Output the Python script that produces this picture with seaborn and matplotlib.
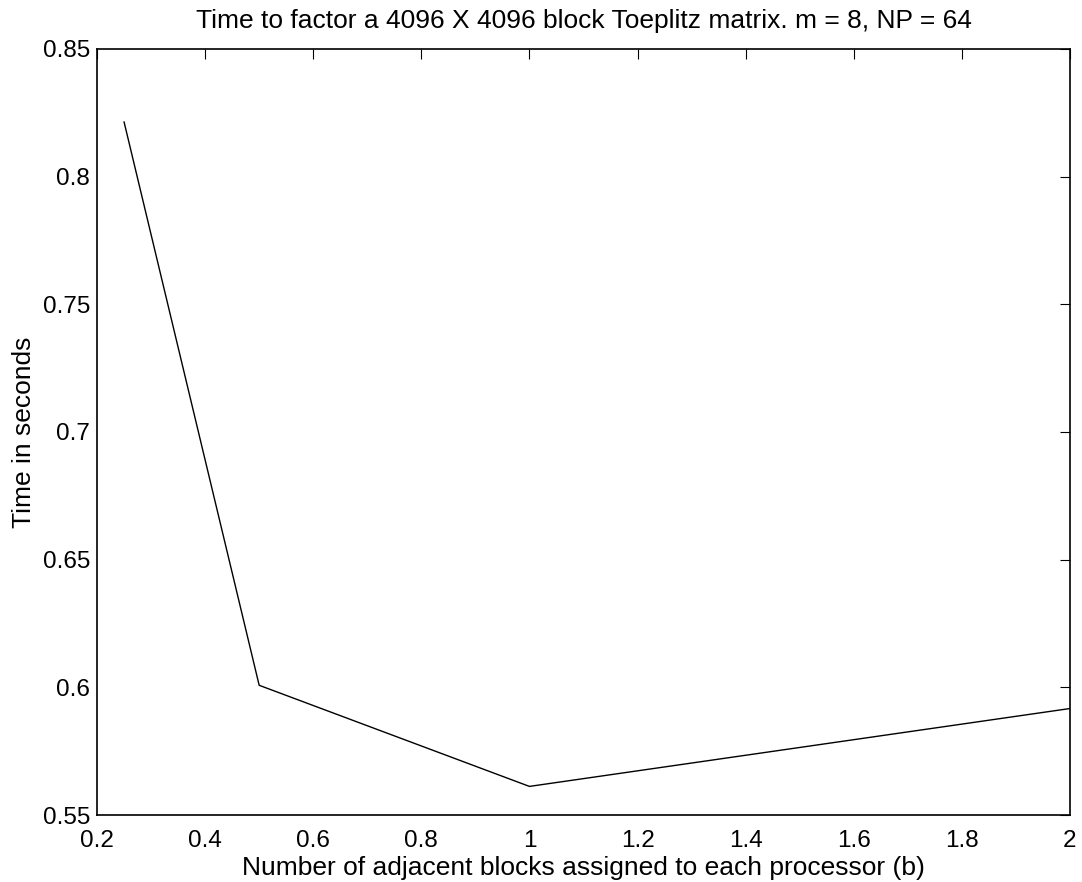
import matplotlib
matplotlib.use("Agg")
import matplotlib.pyplot as plt
import seaborn as sns
import pandas as pd

# Adjacent blocks per processor (b) and measured factorization time (s)
blocks = [0.25, 0.5, 1.0, 2.0]
seconds = [0.8215, 0.6008, 0.5612, 0.5917]

x_ticks = [0.2, 0.4, 0.6, 0.8, 1.0, 1.2, 1.4, 1.6, 1.8, 2.0]
x_tick_labels = ["0.2", "0.4", "0.6", "0.8", "1", "1.2", "1.4", "1.6", "1.8", "2"]
y_ticks = [0.55, 0.6, 0.65, 0.7, 0.75, 0.8, 0.85]
y_tick_labels = ["0.55", "0.6", "0.65", "0.7", "0.75", "0.8", "0.85"]

sns.set_theme(style="white")
plt.rcParams["font.family"] = ["Liberation Sans", "DejaVu Sans"]

df = pd.DataFrame({"b": blocks, "t": seconds})

fig = plt.figure(figsize=(10.82, 8.82), dpi=100)
ax = fig.add_axes([97 / 1082, 1 - 815 / 882, (1070 - 97) / 1082, (815 - 49) / 882])

sns.lineplot(data=df, x="b", y="t", ax=ax, color="black", linewidth=1.0,
             estimator=None, sort=False)

ax.set_xlim(0.2, 2.0)
ax.set_ylim(0.55, 0.85)
ax.set_xticks(x_ticks)
ax.set_xticklabels(x_tick_labels)
ax.set_yticks(y_ticks)
ax.set_yticklabels(y_tick_labels)

for side in ["top", "right", "bottom", "left"]:
    ax.spines[side].set_visible(True)
    ax.spines[side].set_color("black")
    ax.spines[side].set_linewidth(1.2)

ax.tick_params(axis="both", which="major", direction="in", length=7, width=0.8,
               color="black", labelsize=17.5, labelcolor="black",
               top=True, right=True)
ax.tick_params(axis="x", pad=10.5)
ax.tick_params(axis="y", pad=5)

ax.set_xlabel("Number of adjacent blocks assigned to each processor (b)",
              fontsize=19, color="black", labelpad=3)
ax.set_ylabel("Time in seconds", fontsize=19, color="black", labelpad=5)
ax.set_title("Time to factor a 4096 X 4096 block Toeplitz matrix. m = 8, NP = 64",
             fontsize=19, color="black", pad=15)

fig.savefig("out.png", dpi=100, facecolor="white")
